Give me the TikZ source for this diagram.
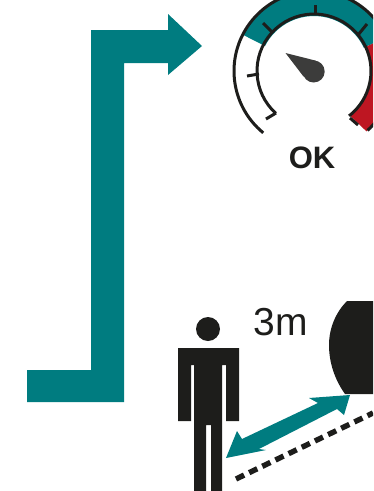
\documentclass[tikz,border=0pt]{standalone}
\usepackage{fontspec}
\usetikzlibrary{calc}
\setmainfont{Liberation Sans}
\definecolor{tealc}{HTML}{007C80}
\definecolor{redc}{HTML}{BE1622}
\definecolor{inkc}{HTML}{1D1D1B}
\definecolor{needlec}{HTML}{3C3C3B}
\tikzset{
  x=1pt,y=1pt,
  gaugeline/.style={draw=inkc,line width=3pt,line cap=butt},
  bandteal/.style={fill=tealc,draw=none},
  bandred/.style={fill=redc,draw=none},
  solidink/.style={fill=inkc,draw=none},
  dashline/.style={draw=inkc,line width=5.4pt,dash pattern=on 9pt off 5.6pt}
}
\begin{document}
\begin{tikzpicture}
\useasboundingbox (0,0) rectangle (373,-491);
\clip (0,0) rectangle (373,-491);
% big bent arrow
\fill[tealc] (27,-370) -- (91,-370) -- (91,-30) -- (168,-30) -- (168,-14) -- (202,-46) -- (168,-75) -- (168,-63) -- (124,-63) -- (124,-402) -- (27,-402) -- cycle;
% gauge
\coordinate (gc) at (314,-71);
\fill[bandteal] ($(gc)+(153:80)$) arc[start angle=153,end angle=25,radius=80pt] -- ($(gc)+(25:55)$) arc[start angle=25,end angle=153,radius=55pt] -- cycle;
\fill[bandred] ($(gc)+(25:80)$) arc[start angle=25,end angle=-49,radius=80pt] -- ($(gc)+(-51:58)$) arc[start angle=-51,end angle=25,radius=58pt] -- cycle;
\draw[gaugeline] ($(gc)+(230.6:80)$) arc[start angle=230.6,end angle=-48,radius=80pt];
\draw[gaugeline] ($(gc)+(228:57)$) arc[start angle=228,end angle=-52,radius=57pt];
\draw[gaugeline] (276,-113) -- (266,-119);
\draw[gaugeline] (247,-76) -- (259,-74);
\draw[gaugeline] (263,-23) -- (272,-32);
\draw[gaugeline] (315,-5) -- (315,-15);
\draw[gaugeline] (358,-35) -- (367,-24);
\draw[gaugeline] (350,-118) -- (358,-125);
% needle
\fill[needlec] (313.7,-71.5) circle[radius=11];
\fill[needlec] (285.5,-53) -- (316,-60.7) -- (303.5,-76.5) -- cycle;
\node[font=\fontsize{31}{31}\selectfont\bfseries,text=inkc,inner sep=0pt,anchor=center] (oklabel) at (312,-157.5) {OK};
% person
\fill[solidink] (208,-329) circle[radius=12];
\fill[solidink] (178,-348) -- (239,-348) -- (239,-421) -- (226,-421) -- (226,-365) -- (222,-365) -- (222,-491) -- (211,-491) -- (211,-425) -- (206,-425) -- (206,-491) -- (194,-491) -- (194,-365) -- (191,-365) -- (191,-421) -- (178,-421) -- cycle;
\node[font=\fontsize{39}{39}\selectfont,text=inkc,inner sep=0pt,anchor=center] (dist) at (281,-322) {3m};
% dark machine
\fill[solidink] (347,-301) .. controls (336,-312) and (329,-328) .. (329,-345) .. controls (329,-363) and (335,-380) .. (345,-394) -- (373,-394) -- (373,-301) -- cycle;
% double arrow
\fill[tealc] (226,-458) -- (237,-431) -- (242,-439) -- (318,-403) -- (309,-398) -- (350,-395) -- (344,-415) -- (337,-409) -- (259,-449) -- (266,-450) -- cycle;
% dashed line
\draw[dashline] (236,-479) -- (373,-413);
\end{tikzpicture}
\end{document}
